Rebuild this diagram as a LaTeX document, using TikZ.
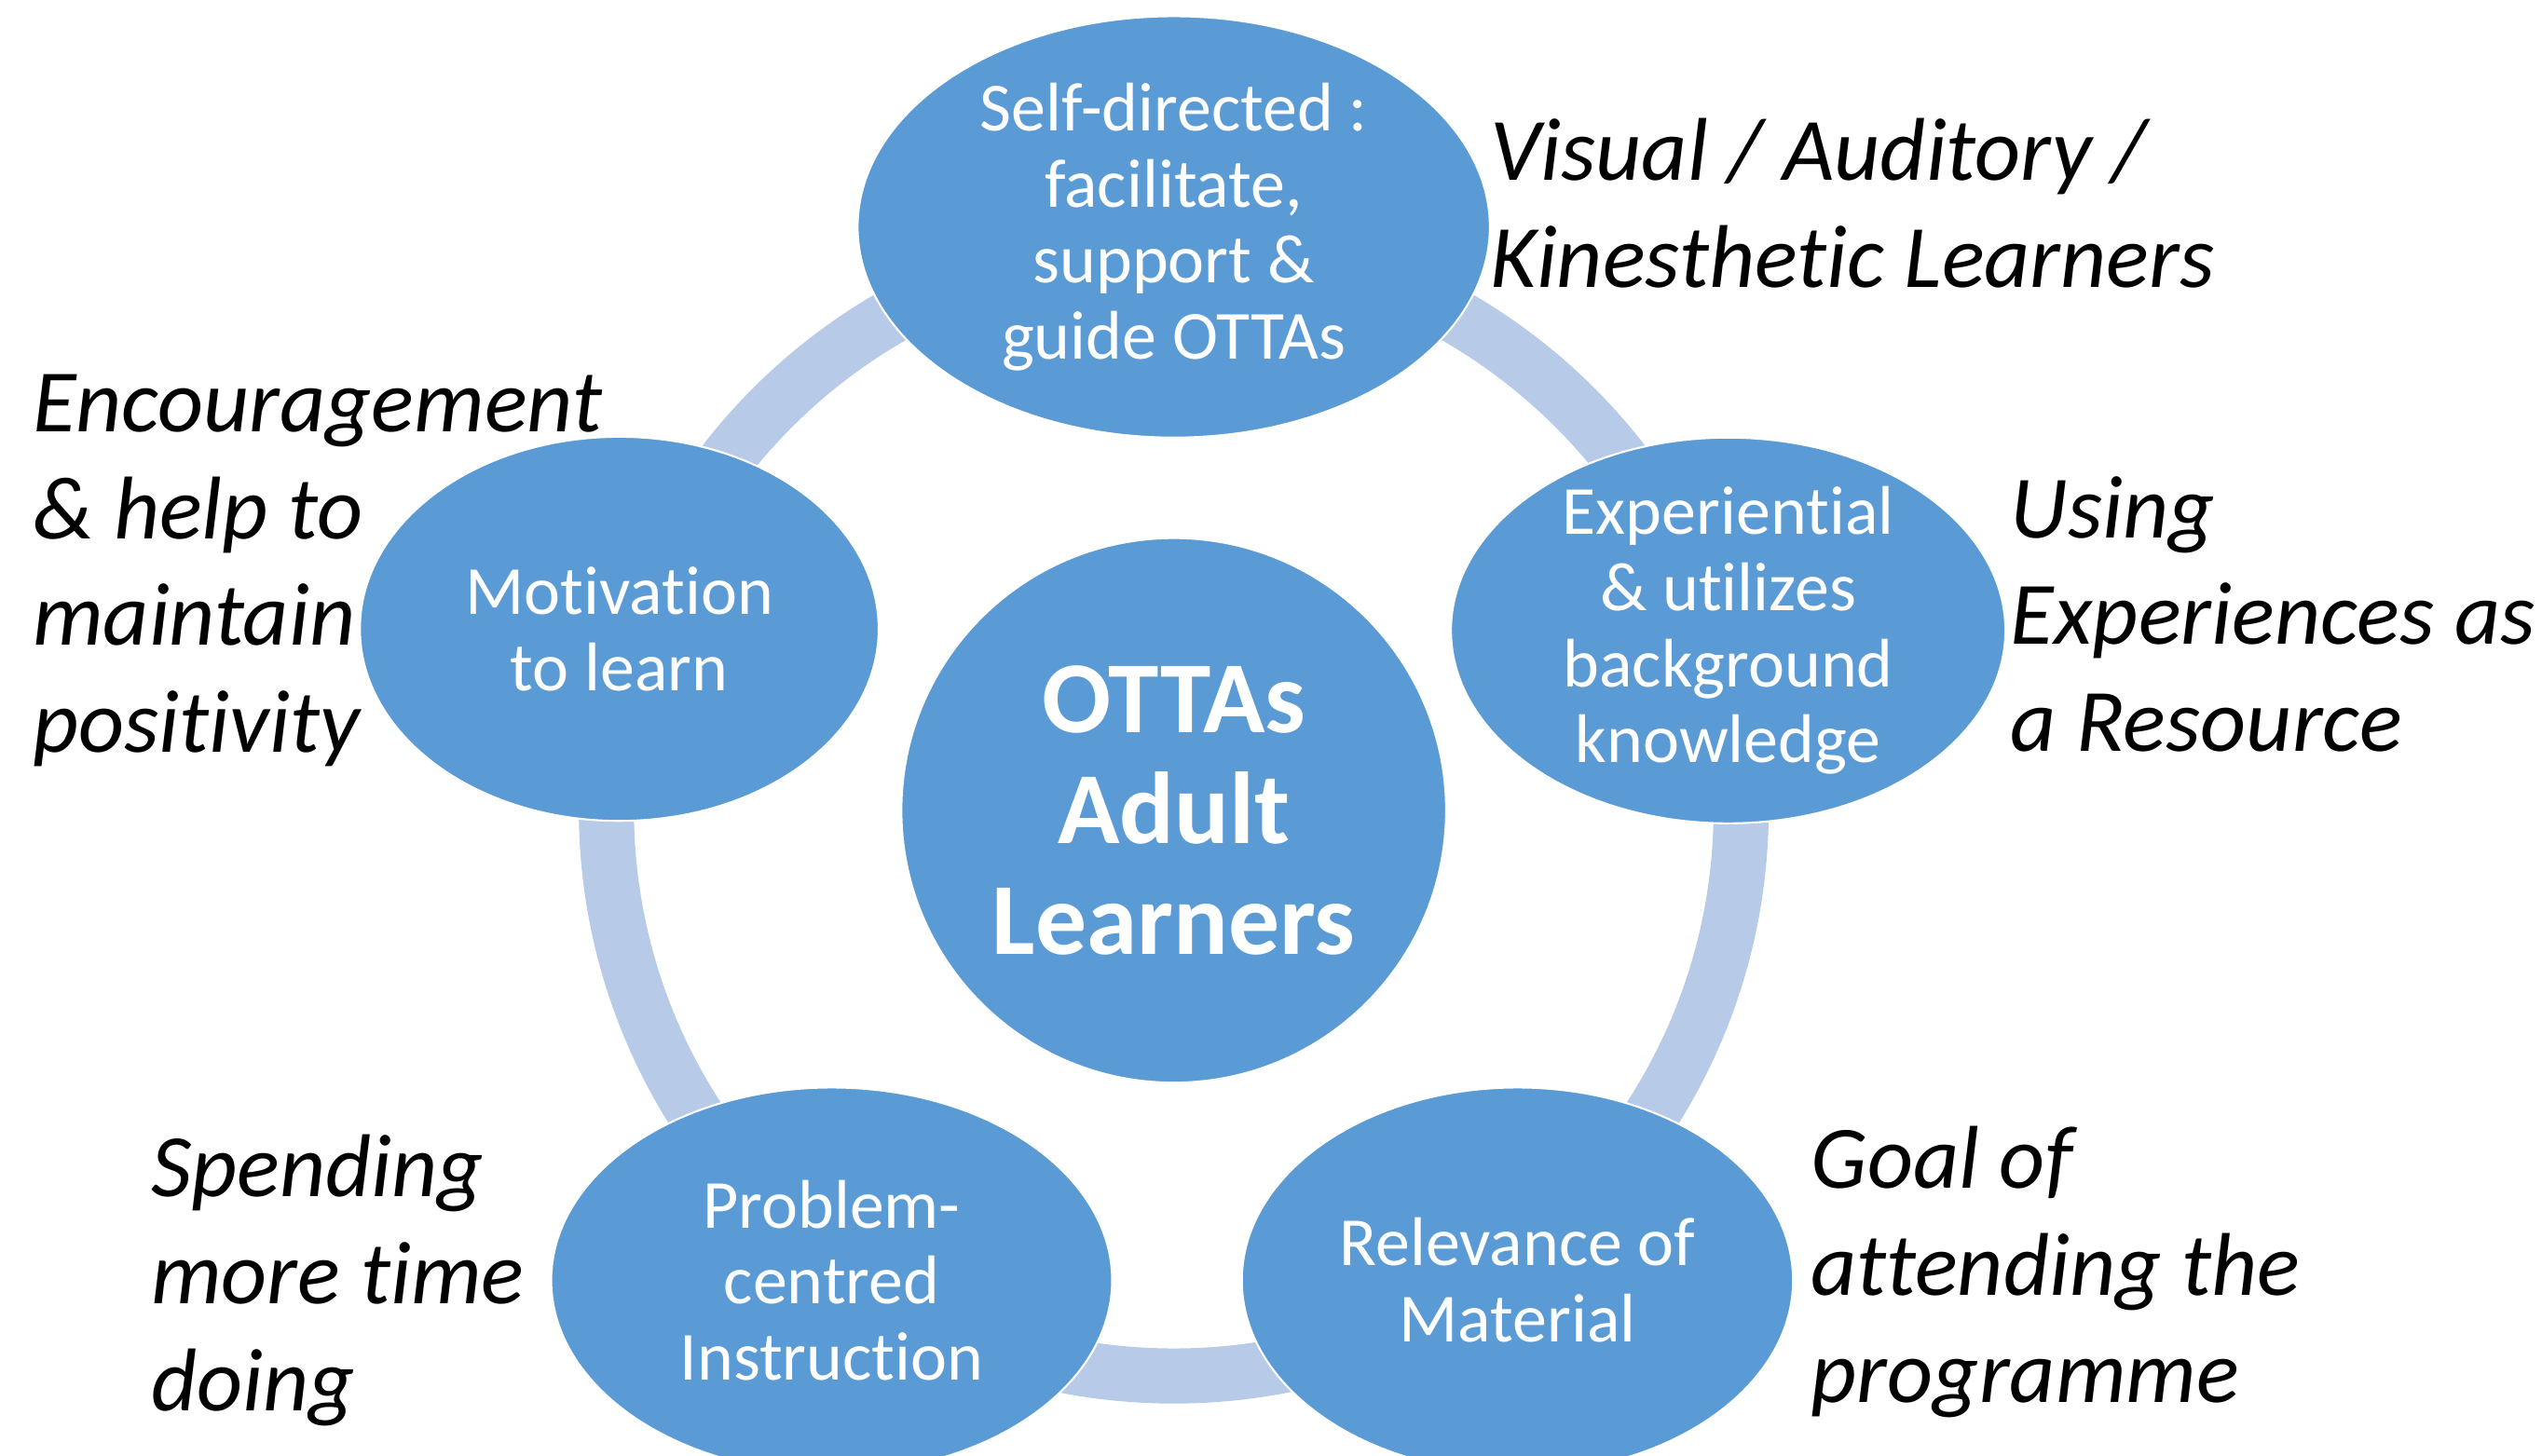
\documentclass[tikz,border=0pt]{standalone}
\usepackage{fontspec}
\setmainfont{Carlito}[Ligatures=NoCommon]
\usetikzlibrary{shapes.geometric}
\definecolor{nodeblue}{RGB}{91,155,213}
\definecolor{ringblue}{RGB}{183,203,232}
\begin{document}
\begin{tikzpicture}[x=1pt,y=1pt,
  cyc/.style={ellipse, fill=nodeblue, draw=white, line width=1.2pt, inner sep=0pt},
  txt/.style={text=white, align=center, inner sep=0pt, font=\fontsize{42.5}{47}\selectfont},
  lbl/.style={align=left, anchor=west, inner sep=0pt, font=\fontsize{55}{66}\selectfont\itshape}]
\useasboundingbox (0,0) rectangle (1568,-898);
\clip (0,0) rectangle (1568,-898);
\draw[ringblue, line width=34pt] (724,-499) circle (350);
\node[circle, fill=nodeblue, draw=white, line width=1.2pt, minimum size=336pt, inner sep=0pt] (c) at (724,-500) {};
\node[text=white, align=center, inner sep=0pt, font=\bfseries\fontsize{63}{68.5}\selectfont] (ct) at (c) {OTTAs\\Adult\\Learners};
\node[cyc, minimum width=390pt, minimum height=260pt] (n1) at (724,-140) {};
\node[txt] (t1) at (n1) {Self-directed :\\facilitate,\\support \&\\guide OTTAs};
\node[cyc, minimum width=342pt, minimum height=238pt] (n2) at (1066,-389) {};
\node[txt] (t2) at (n2) {Experiential\\\& utilizes\\background\\knowledge};
\node[cyc, minimum width=340pt, minimum height=238pt] (n3) at (936,-790) {};
\node[txt] (t3) at (n3) {Relevance of\\Material};
\node[cyc, minimum width=346pt, minimum height=238pt] (n4) at (513,-790) {};
\node[txt] (t4) at (n4) {Problem-\\centred\\Instruction};
\node[cyc, minimum width=320pt, minimum height=237pt] (n5) at (382,-388) {};
\node[txt] (t5) at (n5) {Motivation\\to learn};
\node[lbl] (l1) at (919,-125.5) {Visual / Auditory /\\Kinesthetic Learners};
\node[lbl] (l2) at (1240,-379) {Using\\Experiences as\\a Resource};
\node[lbl] (l3) at (1117,-785) {Goal of\\attending the\\programme};
\node[lbl] (l4) at (93,-790) {Spending\\more time\\doing};
\node[lbl] (l5) at (20,-352) {Encouragement\\\& help to\\maintain\\positivity};
\end{tikzpicture}
\end{document}
